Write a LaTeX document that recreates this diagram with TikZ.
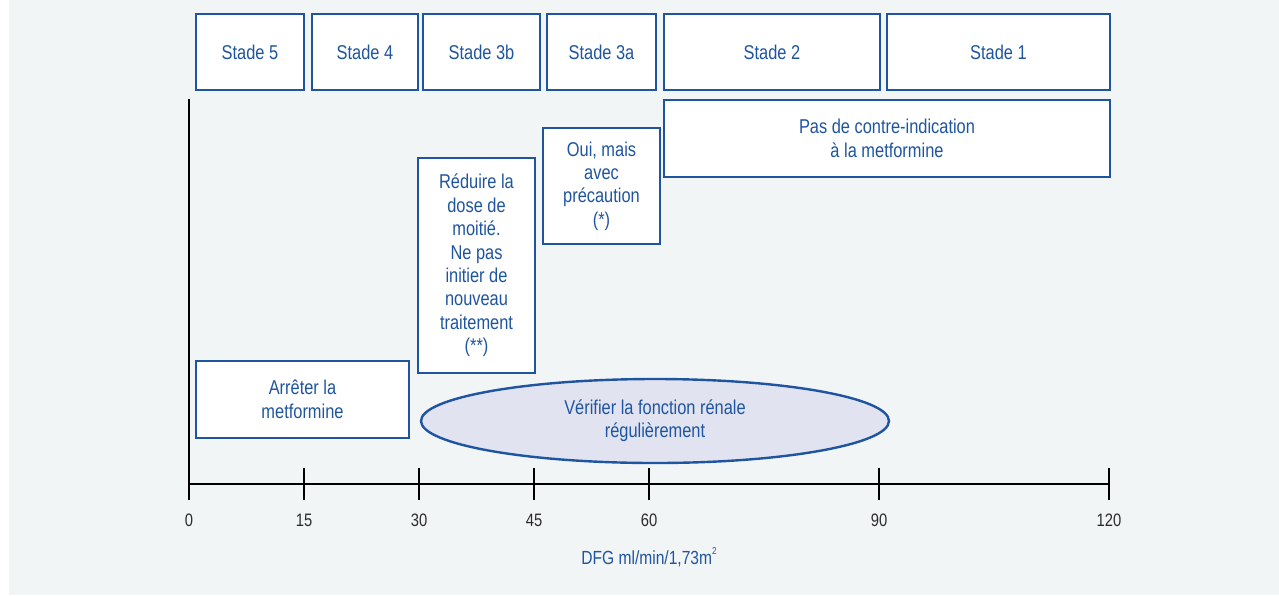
\documentclass[tikz,border=0pt]{standalone}
\usepackage{fontspec}
\setmainfont{Liberation Sans}[FakeStretch=0.82]
\usetikzlibrary{shapes.geometric}
\definecolor{bblue}{HTML}{1F55A0}
\definecolor{bgc}{HTML}{F2F5F6}
\definecolor{efill}{HTML}{E1E3F0}
\definecolor{tgray}{HTML}{2B2B2B}
\begin{document}
\begin{tikzpicture}[x=1pt,y=-1pt,
  box/.style={draw=bblue, line width=2.4pt, fill=white, text=bblue, align=center,
    inner sep=0pt, font=\fontsize{20}{23.4}\selectfont},
  ticklab/.style={text=tgray, font=\fontsize{18}{20}\selectfont, inner sep=0pt},
  axisline/.style={line width=2.3pt, black},
]
\useasboundingbox (0,0) rectangle (1279,595);
\fill[white] (0,0) rectangle (1279,595);
\fill[bgc] (9,0) rectangle (1279,595);

% stage boxes
\node[box, minimum width=108pt, minimum height=76pt] (s5) at (250,52) {Stade 5};
\node[box, minimum width=106pt, minimum height=76pt] (s4) at (365,52) {Stade 4};
\node[box, minimum width=117pt, minimum height=76pt] (s3b) at (481.5,52) {Stade 3b};
\node[box, minimum width=109pt, minimum height=76pt] (s3a) at (601.5,52) {Stade 3a};
\node[box, minimum width=216pt, minimum height=76pt] (s2) at (772,52) {Stade 2};
\node[box, minimum width=223pt, minimum height=76pt] (s1) at (998.5,52) {Stade 1};

% recommendation boxes
\node[box, minimum width=446pt, minimum height=77pt] (pas) at (887,138.5) {Pas de contre-indication\\à la metformine};
\node[box, minimum width=117pt, minimum height=116pt] (oui) at (601.5,186) {Oui, mais\\avec\\précaution\\(*)};
\node[box, minimum width=117pt, minimum height=215pt] (red) at (476.5,265.5) {Réduire la\\dose de\\moitié.\\Ne pas\\initier de\\nouveau\\traitement\\(**)};
\node[box, minimum width=213pt, minimum height=77pt] (arr) at (302.5,399.5) {Arrêter la\\metformine};
\node[box, ellipse, fill=efill, minimum width=468pt, minimum height=84pt] (ell) at (655,421) {Vérifier la fonction rénale\\régulièrement};

% axes
\coordinate (ytop) at (189,99);
\coordinate (ybot) at (189,500);
\coordinate (x0) at (189,484);
\coordinate (x120) at (1109,484);
\draw[axisline] (ytop) -- (ybot);
\draw[axisline] (x0) -- (x120);
\foreach \v/\px in {15/304,30/419,45/534,60/649,90/879,120/1109}{
  \coordinate (ta\v) at (\px,468);
  \coordinate (tb\v) at (\px,500);
  \draw[axisline] (ta\v) -- (tb\v);
}
\foreach \v/\px in {0/189,15/304,30/419,45/534,60/649,90/879,120/1109}{
  \node[ticklab] (l\v) at (\px,520) {\v};
}
\node[text=bblue, font=\fontsize{19}{22}\selectfont, inner sep=0pt] (dfg) at (649,557) {DFG ml/min/1,73m\raisebox{0.55em}{\fontsize{10}{10}\selectfont 2}};
\end{tikzpicture}
\end{document}
